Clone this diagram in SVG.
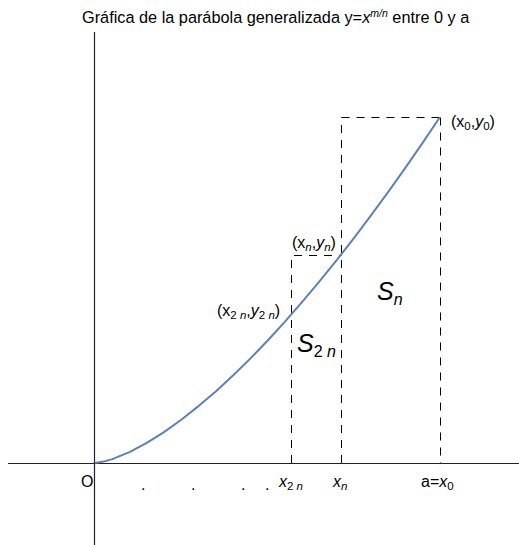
<svg xmlns="http://www.w3.org/2000/svg" width="519" height="545" viewBox="0 0 519 545">
<style>
text{font-family:"Liberation Sans",Arial,sans-serif;fill:#000}
.lbl{font-size:16px}
.sub{font-size:11.5px}
.big{font-size:25px}
.bsub{font-size:16px}
.i{font-style:italic}
.axis{stroke:#222;stroke-width:1.2;fill:none}
.dash{stroke:#000;stroke-width:1;stroke-dasharray:8 7;fill:none}
.curve{stroke:#5E81B5;stroke-width:2;fill:none;stroke-linejoin:round}
</style>
<rect width="519" height="545" fill="#fff"/>
<text id="title" x="82" y="23" style="font-size:16.3px">Gráfica de la parábola generalizada y=<tspan class="i">x</tspan><tspan class="i" dy="-6" style="font-size:10.5px">m/n</tspan><tspan dy="6"> entre 0 y a</tspan></text>
<g id="axes">
<line class="axis" x1="94.5" y1="32" x2="94.5" y2="545"/>
<line class="axis" x1="8" y1="463.5" x2="519" y2="463.5"/>
</g>
<g id="connectors">
<polyline class="dash" points="291.5,463 291.5,255.5 341.5,255.5"/>
<line class="dash" x1="341.5" y1="463" x2="341.5" y2="117.5"/>
<line class="dash" x1="341.5" y1="117.5" x2="440.5" y2="117.5"/>
<line class="dash" x1="440.5" y1="117.5" x2="440.5" y2="463"/>
</g>
<g id="curve">
<polyline class="curve" points="95,463 103.6,461.6 112.25,459.1 129.5,452.1 146.75,442.9 164,432.1 181.25,419.75 198.5,406.1 215.75,391.4 233,375.5 250.25,358.6 267.5,340.7 284.75,321.9 302,302.2 319.25,281.7 336.5,260.4 353.75,238.3 371,215.4 388.25,191.8 405.5,167.6 422.75,142.6 440,117"/>
</g>
<g id="labels">
<text class="lbl" x="451" y="127">(x<tspan class="sub" dy="3">0</tspan><tspan dy="-3">,</tspan><tspan class="i">y</tspan><tspan class="sub" dy="3">0</tspan><tspan dy="-3">)</tspan></text>
<text class="lbl" x="292" y="248">(x<tspan class="sub i" dy="3">n</tspan><tspan dy="-3">,</tspan><tspan class="i">y</tspan><tspan class="sub i" dy="3">n</tspan><tspan dy="-3">)</tspan></text>
<text class="lbl" x="217" y="316">(x<tspan class="sub" dy="3">2</tspan><tspan class="sub i"> n</tspan><tspan dy="-3">,</tspan><tspan class="i">y</tspan><tspan class="sub" dy="3">2</tspan><tspan class="sub i"> n</tspan><tspan dy="-3">)</tspan></text>
<text class="big i" x="377" y="300">S<tspan class="bsub" dy="5">n</tspan></text>
<text class="big" x="297" y="352"><tspan class="i">S</tspan><tspan class="bsub" dy="5">2</tspan><tspan class="bsub i"> n</tspan></text>
<text class="lbl" x="81" y="487">O</text>
<text class="lbl" x="141" y="490">.</text>
<text class="lbl" x="191" y="490">.</text>
<text class="lbl" x="241" y="490">.</text>
<text class="lbl" x="265" y="490">.</text>
<text class="lbl i" x="279" y="487">x<tspan class="sub" dy="3" style="font-style:normal">2</tspan><tspan class="sub"> n</tspan></text>
<text class="lbl i" x="333" y="487">x<tspan class="sub" dy="3">n</tspan></text>
<text class="lbl" x="421" y="487">a=<tspan class="i">x</tspan><tspan class="sub" dy="3">0</tspan></text>
</g>
</svg>
